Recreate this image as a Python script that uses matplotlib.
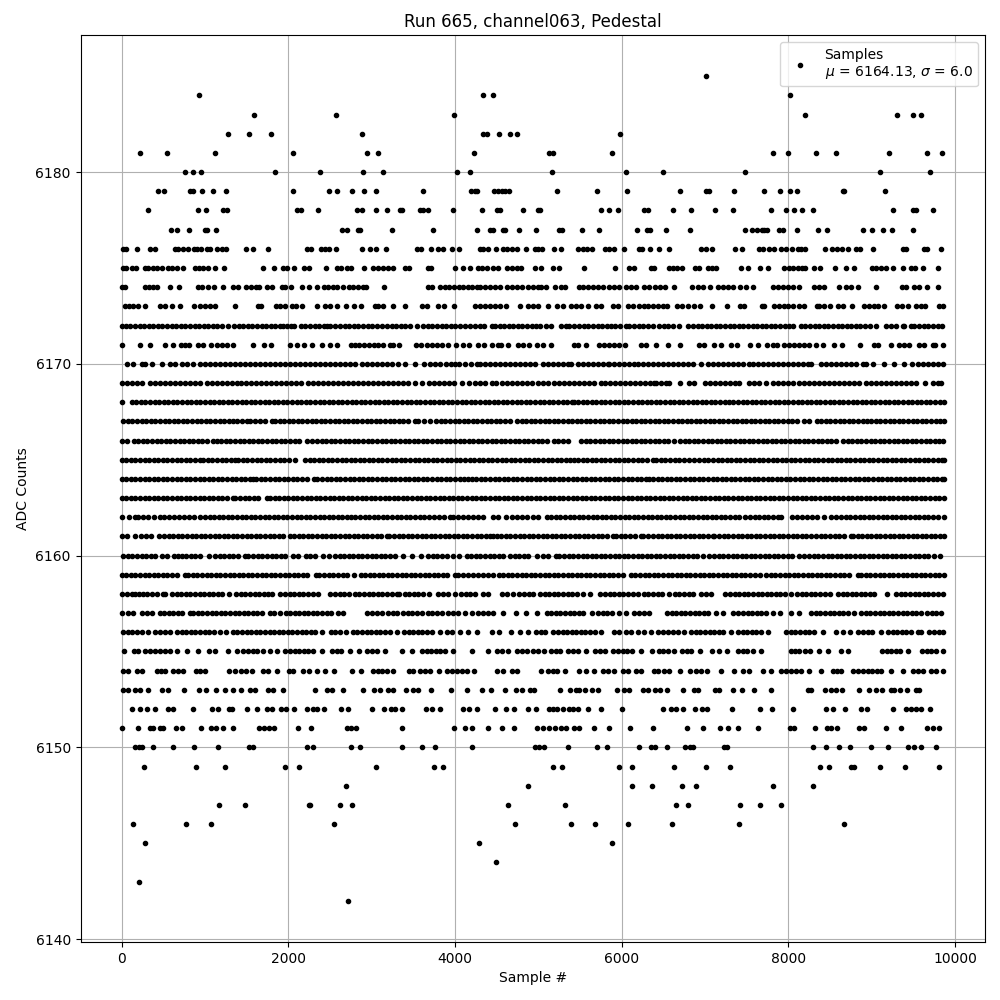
import numpy as np
import matplotlib
matplotlib.use("Agg")
import matplotlib.pyplot as plt

L = {}
L[6185] = [7008]
L[6184] = [932, 4340, 4460, 8016]
L[6183] = [1592, 2576, 3992, 8196, 9300, 9492, 9588]
L[6182] = [1280, 1532, 1796, 2888, 4340, 4380, 4532, 4664, 4748, 5976]
L[6181] = [224, 548, 1124, 2060, 2948, 3080, 4232, 5132, 5172, 5880, 7812, 7992, 8328, 8568, 9204, 9660, 9840]
L[6180] = [764, 860, 956, 1844, 2384, 2900, 3140, 4028, 4184, 5160, 6048, 6492, 7476, 9096, 9696]
L[6179] = [440, 512, 820, 852, 968, 1100, 1256, 2060, 2492, 2588, 2768, 2912, 3056, 3620, 4196, 4236, 4268, 4472, 4512, 4560, 4600, 4648, 5220, 5700, 6060, 6696, 7008, 7052, 7344, 7704, 7896, 8016, 8100, 8650, 8668, 9156]
L[6178] = [320, 920, 1016, 1220, 1268, 2108, 2148, 2360, 2828, 2888, 3056, 3188, 3340, 3364, 3584, 3620, 3680, 3980, 4328, 4500, 4540, 4820, 4992, 5024, 5748, 5844, 5952, 6264, 6312, 6612, 6828, 7116, 7332, 7788, 7968, 8064, 8160, 8292, 9252, 9492, 9532, 9732]
L[6177] = [596, 668, 812, 1000, 1028, 1136, 2648, 2700, 2840, 2860, 3248, 3740, 4268, 4420, 4460, 4572, 4604, 4772, 4968, 5244, 5280, 5520, 5724, 6180, 6300, 6340, 6528, 6816, 7476, 7560, 7620, 7680, 7710, 7740, 7884, 7932, 8100, 8352, 8460, 8892, 9000, 9132, 9240, 9492]
L[6176] = [12, 48, 188, 340, 404, 640, 680, 732, 800, 868, 908, 948, 1020, 1060, 1148, 1200, 1256, 1492, 1572, 1760, 2220, 2276, 2392, 2440, 2488, 2576, 2888, 2980, 3052, 3176, 3540, 3592, 3716, 3796, 3852, 3968, 4048, 4300, 4340, 4396, 4488, 4580, 4620, 4680, 4740, 4856, 4960, 5000, 5040, 5184, 5268, 5472, 5532, 5580, 5640, 5796, 5844, 5904, 6024, 6204, 6240, 6336, 6452, 6564, 6948, 7008, 7080, 7356, 7440, 7644, 7692, 7772, 7832, 7908, 7976, 8044, 8112, 8152, 8196, 8436, 8520, 8580, 8640, 8712, 8808, 8860, 9012, 9380, 9416, 9624, 9660, 9828]
L[6175] = [12, 52, 120, 168, 280, 320, 380, 428, 480, 560, 608, 660, 740, 880, 932, 980, 1040, 1124, 1232, 1700, 1832, 1940, 1980, 2072, 2192, 2252, 2456, 2588, 2628, 2708, 2748, 2912, 3020, 3072, 3132, 3200, 3260, 3400, 3452, 3680, 3708, 4004, 4100, 4180, 4272, 4320, 4380, 4460, 4520, 4628, 4680, 4740, 4788, 4960, 5028, 5172, 5252, 5544, 5916, 6084, 6144, 6348, 6388, 6564, 6612, 6660, 6720, 6884, 6932, 7032, 7084, 7132, 7432, 7512, 7656, 7752, 7944, 8004, 8052, 8112, 8160, 8204, 8304, 8376, 8556, 8688, 8792, 9000, 9052, 9112, 9172, 9260, 9372, 9472, 9520, 9612, 9792]
L[6174] = [0, 40, 280, 332, 380, 420, 584, 692, 920, 960, 1032, 1112, 1220, 1340, 1400, 1492, 1548, 1608, 1652, 1740, 1800, 1920, 1960, 2036, 2160, 2252, 2348, 2432, 2480, 2532, 2580, 2660, 2728, 2780, 2840, 2892, 2932, 3152, 3672, 3720, 3820, 3880, 3932, 3988, 4048, 4100, 4160, 4208, 4260, 4300, 4360, 4420, 4480, 4540, 4620, 4680, 4748, 4800, 4880, 4940, 5000, 5032, 5092, 5196, 5272, 5324, 5484, 5532, 5592, 5652, 5720, 5780, 5844, 5904, 5972, 6052, 6112, 6168, 6272, 6332, 6404, 6460, 6516, 6624, 6840, 6912, 6972, 7056, 7152, 7212, 7280, 7340, 7416, 7488, 7572, 7812, 7872, 7932, 7992, 8052, 8124, 8312, 8372, 8432, 8604, 8692, 8752, 8832, 9048, 9360, 9412, 9512, 9572, 9660, 9792]
L[6173] = [40, 88, 140, 200, 284, 460, 520, 600, 704, 872, 940, 1000, 1060, 1120, 1364, 1640, 1668, 1848, 1900, 1960, 2040, 2092, 2160, 2348, 2440, 2500, 2580, 2696, 2792, 2872, 3040, 3080, 3140, 3256, 3396, 3608, 3660, 3800, 3872, 3992, 4240, 4300, 4360, 4420, 4480, 4540, 4612, 4784, 4880, 4932, 5000, 5112, 5220, 5292, 5392, 5452, 5512, 5592, 5692, 5752, 5892, 5952, 6072, 6132, 6204, 6264, 6312, 6372, 6432, 6492, 6540, 6664, 6724, 6792, 6872, 6940, 7080, 7260, 7420, 7472, 7684, 7712, 7824, 7884, 7944, 7992, 8052, 8132, 8192, 8340, 8372, 8424, 8496, 8592, 8652, 8764, 8904, 8972, 9032, 9072, 9152, 9304, 9360, 9432, 9532, 9592, 9640, 9812, 9860]
L[6172] = [0, 50, 105, 160, 215, 270, 325, 380, 435, 490, 545, 600, 655, 710, 765, 820, 875, 930, 985, 1040, 1095, 1150, 1205, 1280, 1350, 1405, 1460, 1515, 1570, 1625, 1680, 1735, 1790, 1845, 1900, 1940, 1980, 2030, 2070, 2150, 2205, 2260, 2315, 2370, 2425, 2460, 2500, 2560, 2620, 2675, 2730, 2785, 2840, 2895, 2960, 3000, 3060, 3120, 3180, 3240, 3295, 3350, 3405, 3460, 3540, 3620, 3675, 3730, 3785, 3840, 3895, 3950, 4005, 4060, 4115, 4180, 4240, 4295, 4350, 4440, 4480, 4535, 4590, 4645, 4700, 4755, 4810, 4865, 4920, 4975, 5020, 5090, 5152, 5272, 5330, 5372, 5432, 5490, 5545, 5600, 5655, 5710, 5765, 5820, 5872, 5924, 5985, 6052, 6092, 6150, 6205, 6260, 6315, 6370, 6452, 6504, 6560, 6620, 6692, 6792, 6850, 6912, 6964, 7020, 7075, 7130, 7185, 7240, 7295, 7350, 7405, 7460, 7515, 7570, 7625, 7680, 7735, 7790, 7845, 7900, 7955, 8010, 8052, 8152, 8205, 8260, 8315, 8370, 8425, 8480, 8535, 8590, 8645, 8700, 8755, 8810, 8865, 8920, 8975, 9052, 9172, 9230, 9290, 9372, 9392, 9472, 9512, 9570, 9625, 9680, 9735, 9792, 9840]
L[6171] = [0, 224, 344, 524, 620, 708, 760, 812, 920, 972, 1076, 1140, 1200, 1260, 1340, 1580, 1712, 1796, 2024, 2100, 2188, 2284, 2408, 2500, 2588, 2748, 2800, 2852, 2908, 2972, 3032, 3080, 3132, 3220, 3260, 3324, 3532, 3588, 3660, 3720, 3780, 3840, 3920, 4016, 4100, 4172, 4280, 4348, 4440, 4520, 4548, 4640, 4760, 4820, 4892, 4980, 5052, 5152, 5432, 5472, 5572, 5732, 5792, 5852, 5912, 5972, 6036, 6232, 6292, 6412, 6556, 6696, 6924, 6984, 7104, 7192, 7308, 7380, 7536, 7636, 7740, 7812, 7860, 7944, 8012, 8072, 8132, 8192, 8252, 8332, 8412, 8544, 8640, 8856, 9032, 9072, 9236, 9324, 9392, 9444, 9572, 9632, 9732, 9764, 9856]
L[6170] = [60, 140, 240, 280, 360, 480, 580, 640, 720, 780, 860, 940, 1000, 1060, 1120, 1180, 1240, 1300, 1360, 1420, 1480, 1540, 1600, 1660, 1720, 1780, 1840, 1900, 1960, 2020, 2080, 2140, 2200, 2260, 2320, 2380, 2440, 2500, 2560, 2620, 2680, 2740, 2800, 2880, 2940, 3000, 3060, 3120, 3180, 3240, 3320, 3400, 3520, 3628, 3700, 3760, 3820, 3892, 3950, 4000, 4052, 4120, 4190, 4260, 4300, 4360, 4420, 4480, 4540, 4600, 4660, 4720, 4780, 4840, 4900, 4960, 5052, 5110, 5170, 5230, 5290, 5350, 5392, 5472, 5530, 5590, 5650, 5710, 5770, 5832, 5852, 5910, 5970, 6030, 6090, 6152, 6192, 6250, 6310, 6370, 6430, 6490, 6550, 6610, 6670, 6730, 6790, 6852, 6952, 7032, 7090, 7150, 7210, 7270, 7330, 7390, 7450, 7532, 7572, 7630, 7690, 7750, 7810, 7870, 7930, 7990, 8050, 8110, 8170, 8230, 8272, 8392, 8450, 8510, 8570, 8630, 8690, 8750, 8810, 8892, 8932, 9012, 9152, 9272, 9384, 9484, 9552, 9610, 9670, 9730, 9790, 9860]
L[6169] = [0, 60, 120, 180, 240, 340, 400, 460, 520, 580, 640, 700, 760, 820, 880, 940, 1020, 1080, 1140, 1200, 1260, 1320, 1380, 1432, 1490, 1550, 1610, 1670, 1730, 1790, 1850, 1910, 1970, 2030, 2090, 2150, 2240, 2300, 2360, 2420, 2480, 2540, 2600, 2660, 2720, 2780, 2840, 2900, 2960, 3020, 3080, 3140, 3200, 3260, 3320, 3380, 3440, 3520, 3600, 3692, 3750, 3810, 3870, 3930, 3990, 4080, 4172, 4240, 4300, 4360, 4440, 4492, 4560, 4620, 4680, 4740, 4800, 4860, 4920, 5000, 5060, 5120, 5192, 5252, 5310, 5370, 5430, 5490, 5550, 5610, 5670, 5752, 5804, 5860, 5920, 5980, 6040, 6100, 6160, 6220, 6280, 6340, 6392, 6412, 6470, 6530, 6572, 6700, 6804, 6872, 7000, 7060, 7120, 7180, 7240, 7300, 7360, 7412, 7532, 7590, 7652, 7732, 7812, 7870, 7930, 7990, 8052, 8132, 8190, 8250, 8310, 8370, 8430, 8490, 8550, 8610, 8670, 8730, 8790, 8850, 8932, 8992, 9052, 9110, 9170, 9230, 9290, 9350, 9410, 9470, 9532, 9644, 9732, 9790, 9832]
L[6168] = [8, 120, 175, 230, 285, 340, 395, 450, 505, 560, 615, 670, 725, 780, 835, 890, 945, 1000, 1055, 1110, 1165, 1220, 1275, 1330, 1385, 1440, 1495, 1550, 1605, 1660, 1715, 1770, 1825, 1880, 1935, 1990, 2045, 2100, 2155, 2210, 2265, 2320, 2375, 2430, 2485, 2540, 2595, 2650, 2705, 2760, 2815, 2870, 2925, 2980, 3035, 3090, 3145, 3200, 3255, 3310, 3365, 3420, 3475, 3530, 3585, 3640, 3695, 3750, 3805, 3860, 3915, 3970, 4025, 4080, 4135, 4190, 4245, 4300, 4355, 4410, 4465, 4520, 4575, 4630, 4685, 4740, 4795, 4850, 4905, 4960, 5015, 5070, 5125, 5180, 5235, 5290, 5345, 5400, 5432, 5472, 5530, 5585, 5640, 5695, 5750, 5805, 5860, 5915, 5970, 6025, 6080, 6135, 6190, 6245, 6300, 6355, 6410, 6465, 6520, 6575, 6630, 6685, 6740, 6795, 6850, 6905, 6960, 7015, 7070, 7125, 7180, 7235, 7290, 7332, 7392, 7450, 7505, 7560, 7615, 7670, 7725, 7780, 7835, 7890, 7945, 8000, 8055, 8110, 8165, 8220, 8275, 8330, 8385, 8440, 8495, 8550, 8605, 8660, 8715, 8770, 8825, 8880, 8935, 8990, 9045, 9100, 9155, 9210, 9265, 9320, 9375, 9430, 9485, 9540, 9595, 9650, 9705, 9760, 9815, 9866]
L[6167] = [20, 75, 130, 185, 240, 295, 350, 405, 460, 515, 570, 625, 680, 735, 790, 845, 900, 955, 1010, 1065, 1120, 1175, 1230, 1285, 1340, 1380, 1440, 1500, 1540, 1600, 1660, 1720, 1800, 1840, 1895, 1950, 2005, 2060, 2115, 2170, 2225, 2280, 2335, 2390, 2445, 2500, 2555, 2610, 2665, 2720, 2775, 2830, 2885, 2940, 2995, 3050, 3105, 3160, 3215, 3270, 3325, 3380, 3435, 3520, 3560, 3630, 3700, 3772, 3830, 3885, 3940, 3995, 4050, 4105, 4160, 4215, 4270, 4325, 4380, 4435, 4490, 4545, 4600, 4655, 4740, 4800, 4855, 4912, 4965, 5020, 5075, 5130, 5185, 5240, 5295, 5350, 5405, 5460, 5515, 5570, 5625, 5680, 5735, 5790, 5845, 5900, 5955, 6010, 6065, 6120, 6175, 6230, 6285, 6340, 6395, 6450, 6505, 6560, 6615, 6670, 6725, 6780, 6835, 6890, 6945, 7000, 7055, 7110, 7165, 7220, 7275, 7330, 7385, 7440, 7495, 7550, 7605, 7660, 7715, 7770, 7825, 7880, 7935, 7990, 8045, 8100, 8192, 8252, 8340, 8395, 8450, 8505, 8560, 8615, 8670, 8725, 8780, 8835, 8892, 8940, 8995, 9050, 9105, 9160, 9215, 9270, 9325, 9380, 9435, 9490, 9545, 9600, 9655, 9712, 9772, 9825, 9866]
L[6166] = [0, 60, 148, 200, 255, 310, 365, 420, 475, 530, 585, 640, 695, 750, 805, 860, 915, 970, 1025, 1100, 1140, 1195, 1250, 1305, 1360, 1415, 1470, 1525, 1580, 1635, 1690, 1745, 1800, 1855, 1910, 1965, 2020, 2075, 2130, 2220, 2280, 2348, 2400, 2455, 2510, 2565, 2620, 2675, 2730, 2785, 2840, 2895, 2960, 3000, 3060, 3120, 3172, 3230, 3285, 3340, 3395, 3450, 3505, 3560, 3615, 3670, 3725, 3780, 3835, 3890, 3945, 4000, 4055, 4110, 4165, 4220, 4275, 4330, 4385, 4440, 4495, 4550, 4605, 4660, 4715, 4770, 4825, 4880, 4935, 4990, 5045, 5100, 5192, 5232, 5290, 5352, 5512, 5570, 5625, 5680, 5735, 5790, 5845, 5900, 5955, 6010, 6065, 6120, 6175, 6230, 6285, 6340, 6395, 6450, 6505, 6560, 6632, 6700, 6755, 6810, 6865, 6920, 6975, 7030, 7085, 7140, 7195, 7250, 7305, 7360, 7415, 7470, 7525, 7580, 7635, 7690, 7745, 7800, 7855, 7910, 7965, 8020, 8075, 8130, 8185, 8240, 8295, 8350, 8405, 8460, 8515, 8570, 8652, 8712, 8767, 8822, 8877, 8932, 8987, 9042, 9097, 9152, 9207, 9262, 9317, 9372, 9427, 9482, 9537, 9592, 9647, 9702, 9757, 9812, 9852]
L[6165] = [0, 55, 110, 165, 220, 275, 330, 385, 440, 495, 550, 605, 660, 715, 770, 825, 880, 940, 980, 1035, 1090, 1145, 1200, 1255, 1310, 1360, 1400, 1455, 1510, 1565, 1620, 1675, 1730, 1785, 1840, 1895, 1950, 2005, 2080, 2200, 2255, 2310, 2365, 2420, 2475, 2530, 2585, 2640, 2695, 2750, 2805, 2860, 2908, 2965, 3020, 3075, 3130, 3185, 3240, 3295, 3350, 3405, 3460, 3515, 3570, 3625, 3680, 3735, 3790, 3845, 3900, 3955, 4010, 4065, 4120, 4175, 4230, 4285, 4340, 4395, 4450, 4505, 4560, 4615, 4670, 4725, 4780, 4835, 4890, 4945, 5000, 5055, 5110, 5165, 5220, 5275, 5330, 5385, 5432, 5472, 5530, 5585, 5640, 5695, 5750, 5805, 5860, 5915, 5970, 6025, 6080, 6135, 6190, 6245, 6300, 6372, 6412, 6470, 6525, 6580, 6635, 6690, 6745, 6812, 6872, 6930, 6985, 7040, 7095, 7150, 7205, 7260, 7315, 7370, 7425, 7480, 7535, 7590, 7645, 7700, 7755, 7810, 7865, 7920, 7975, 8030, 8085, 8140, 8195, 8250, 8305, 8360, 8415, 8470, 8525, 8580, 8635, 8690, 8745, 8800, 8855, 8910, 8965, 9020, 9075, 9130, 9185, 9240, 9295, 9350, 9405, 9460, 9515, 9570, 9625, 9680, 9735, 9790, 9845, 9866]
L[6164] = [0, 55, 110, 165, 220, 275, 330, 385, 440, 495, 550, 605, 660, 715, 770, 825, 880, 935, 990, 1045, 1100, 1155, 1210, 1265, 1320, 1375, 1430, 1485, 1540, 1580, 1612, 1670, 1725, 1780, 1835, 1890, 1945, 2000, 2055, 2110, 2165, 2220, 2308, 2348, 2405, 2460, 2515, 2570, 2625, 2680, 2735, 2790, 2845, 2900, 2955, 3010, 3065, 3120, 3175, 3230, 3285, 3340, 3395, 3450, 3505, 3560, 3615, 3670, 3725, 3780, 3835, 3890, 3945, 4000, 4055, 4110, 4160, 4200, 4255, 4310, 4365, 4420, 4475, 4530, 4585, 4640, 4695, 4750, 4805, 4860, 4915, 4970, 5025, 5080, 5135, 5190, 5245, 5300, 5355, 5410, 5465, 5520, 5575, 5630, 5685, 5740, 5795, 5850, 5905, 5960, 6015, 6070, 6125, 6180, 6235, 6290, 6332, 6372, 6430, 6485, 6540, 6595, 6650, 6705, 6760, 6815, 6870, 6925, 6980, 7035, 7090, 7145, 7200, 7255, 7310, 7365, 7420, 7475, 7530, 7585, 7640, 7695, 7750, 7805, 7860, 7915, 7970, 8025, 8080, 8135, 8190, 8245, 8300, 8355, 8410, 8465, 8520, 8575, 8630, 8685, 8740, 8795, 8850, 8905, 8960, 9015, 9070, 9125, 9180, 9235, 9290, 9345, 9400, 9455, 9510, 9565, 9620, 9675, 9730, 9785, 9840, 9866]
L[6163] = [0, 55, 110, 165, 220, 275, 330, 385, 440, 495, 550, 605, 660, 715, 770, 825, 880, 935, 990, 1045, 1100, 1155, 1210, 1265, 1332, 1360, 1420, 1475, 1530, 1585, 1640, 1740, 1780, 1835, 1890, 1945, 2000, 2055, 2110, 2165, 2220, 2275, 2330, 2385, 2440, 2495, 2550, 2605, 2660, 2715, 2770, 2825, 2880, 2935, 2990, 3045, 3100, 3155, 3210, 3265, 3320, 3375, 3430, 3485, 3540, 3595, 3650, 3705, 3760, 3815, 3870, 3925, 3980, 4035, 4090, 4145, 4200, 4255, 4310, 4365, 4420, 4475, 4530, 4585, 4640, 4695, 4750, 4805, 4860, 4915, 4970, 5025, 5080, 5135, 5190, 5245, 5300, 5355, 5410, 5465, 5520, 5575, 5630, 5685, 5740, 5795, 5850, 5905, 5960, 6015, 6070, 6125, 6180, 6235, 6290, 6345, 6400, 6455, 6510, 6565, 6620, 6675, 6730, 6785, 6840, 6895, 6950, 7005, 7060, 7115, 7170, 7225, 7280, 7335, 7390, 7445, 7500, 7555, 7610, 7665, 7720, 7775, 7830, 7885, 7940, 7995, 8050, 8105, 8160, 8215, 8270, 8325, 8380, 8435, 8490, 8545, 8600, 8655, 8710, 8765, 8820, 8875, 8930, 8985, 9040, 9095, 9150, 9205, 9260, 9315, 9370, 9425, 9480, 9535, 9590, 9645, 9700, 9755, 9810, 9866]
L[6162] = [8, 92, 160, 200, 260, 320, 390, 460, 508, 570, 630, 690, 750, 810, 870, 940, 1000, 1055, 1110, 1165, 1220, 1275, 1330, 1385, 1440, 1495, 1550, 1605, 1660, 1715, 1770, 1825, 1880, 1935, 1990, 2045, 2100, 2155, 2210, 2265, 2320, 2375, 2430, 2485, 2540, 2595, 2650, 2700, 2748, 2805, 2860, 2915, 2970, 3025, 3080, 3135, 3190, 3245, 3300, 3355, 3410, 3465, 3520, 3580, 3628, 3690, 3750, 3810, 3870, 3940, 3980, 4040, 4100, 4160, 4220, 4280, 4340, 4460, 4520, 4612, 4688, 4745, 4800, 4860, 4932, 5000, 5100, 5155, 5210, 5265, 5320, 5375, 5430, 5485, 5540, 5595, 5650, 5705, 5760, 5815, 5870, 5925, 5980, 6035, 6090, 6145, 6200, 6255, 6310, 6365, 6420, 6475, 6530, 6585, 6640, 6695, 6750, 6805, 6860, 6915, 6970, 7025, 7080, 7135, 7190, 7245, 7300, 7355, 7412, 7484, 7540, 7595, 7650, 7705, 7760, 7815, 7870, 7912, 8040, 8100, 8160, 8220, 8280, 8340, 8432, 8512, 8572, 8632, 8690, 8745, 8800, 8855, 8910, 8965, 9020, 9075, 9130, 9185, 9240, 9295, 9350, 9405, 9460, 9515, 9570, 9625, 9680, 9732, 9792, 9866]
L[6161] = [0, 60, 160, 228, 290, 350, 452, 508, 565, 620, 675, 730, 785, 840, 895, 950, 1005, 1060, 1115, 1170, 1225, 1280, 1335, 1390, 1445, 1500, 1555, 1610, 1665, 1720, 1775, 1830, 1885, 1940, 2020, 2068, 2125, 2180, 2235, 2290, 2345, 2400, 2455, 2510, 2565, 2620, 2675, 2730, 2785, 2840, 2895, 2950, 3005, 3060, 3115, 3180, 3212, 3270, 3325, 3380, 3435, 3490, 3545, 3600, 3655, 3710, 3765, 3820, 3875, 3930, 3985, 4040, 4095, 4150, 4205, 4260, 4315, 4370, 4425, 4460, 4500, 4555, 4610, 4665, 4720, 4775, 4830, 4885, 4940, 4995, 5050, 5105, 5160, 5215, 5270, 5325, 5380, 5435, 5490, 5545, 5600, 5655, 5710, 5765, 5820, 5892, 5932, 5990, 6045, 6100, 6160, 6232, 6260, 6320, 6375, 6430, 6485, 6540, 6595, 6650, 6705, 6760, 6815, 6870, 6925, 6980, 7035, 7092, 7112, 7170, 7225, 7280, 7335, 7390, 7445, 7500, 7555, 7610, 7665, 7720, 7775, 7830, 7885, 7940, 7995, 8050, 8105, 8160, 8215, 8272, 8332, 8390, 8445, 8500, 8555, 8610, 8665, 8752, 8772, 8830, 8885, 8940, 8995, 9050, 9105, 9160, 9215, 9270, 9325, 9380, 9435, 9490, 9545, 9600, 9655, 9710, 9765, 9820, 9866]
L[6160] = [20, 75, 130, 185, 240, 295, 350, 405, 480, 548, 628, 680, 720, 772, 830, 885, 940, 1052, 1120, 1175, 1230, 1285, 1340, 1395, 1480, 1520, 1580, 1635, 1690, 1745, 1800, 1855, 1910, 1965, 2060, 2120, 2208, 2265, 2320, 2420, 2492, 2560, 2615, 2670, 2725, 2780, 2835, 2890, 2945, 3000, 3055, 3110, 3165, 3220, 3275, 3372, 3480, 3588, 3680, 3735, 3790, 3845, 3900, 3980, 4052, 4140, 4195, 4250, 4305, 4360, 4415, 4470, 4525, 4580, 4660, 4715, 4770, 4825, 4880, 4980, 5060, 5115, 5212, 5252, 5310, 5365, 5420, 5475, 5530, 5585, 5640, 5695, 5750, 5805, 5860, 5915, 5970, 6025, 6080, 6135, 6190, 6245, 6300, 6355, 6410, 6465, 6520, 6575, 6630, 6685, 6740, 6795, 6850, 6905, 6972, 7052, 7110, 7165, 7220, 7275, 7330, 7385, 7440, 7495, 7550, 7605, 7660, 7715, 7770, 7825, 7880, 7935, 7990, 8045, 8132, 8192, 8250, 8305, 8360, 8415, 8470, 8525, 8580, 8635, 8690, 8745, 8800, 8855, 8910, 8965, 9020, 9075, 9130, 9185, 9240, 9295, 9350, 9405, 9460, 9515, 9570, 9625, 9680, 9752, 9820]
L[6159] = [0, 55, 110, 165, 220, 275, 330, 385, 440, 495, 550, 605, 660, 760, 800, 855, 910, 965, 1020, 1075, 1130, 1185, 1240, 1295, 1350, 1405, 1460, 1515, 1570, 1625, 1680, 1735, 1790, 1845, 1900, 1955, 2010, 2065, 2120, 2175, 2230, 2332, 2372, 2430, 2485, 2540, 2595, 2660, 2708, 2790, 2868, 2920, 2975, 3030, 3085, 3140, 3195, 3250, 3305, 3360, 3415, 3470, 3525, 3580, 3635, 3690, 3745, 3800, 3855, 3910, 4000, 4040, 4100, 4160, 4220, 4280, 4332, 4400, 4460, 4532, 4580, 4635, 4690, 4745, 4800, 4855, 4910, 4965, 5020, 5075, 5130, 5185, 5240, 5295, 5350, 5405, 5460, 5515, 5570, 5625, 5680, 5735, 5790, 5845, 5900, 5955, 6010, 6112, 6164, 6220, 6275, 6330, 6385, 6440, 6495, 6550, 6605, 6660, 6715, 6770, 6825, 6880, 6935, 6990, 7045, 7100, 7155, 7210, 7265, 7320, 7375, 7430, 7485, 7540, 7595, 7660, 7732, 7790, 7845, 7900, 7955, 8010, 8065, 8120, 8175, 8230, 8285, 8340, 8395, 8450, 8505, 8560, 8615, 8670, 8725, 8832, 8872, 8930, 8985, 9040, 9095, 9150, 9205, 9260, 9315, 9370, 9425, 9480, 9535, 9590, 9645, 9700, 9755, 9810, 9866]
L[6158] = [0, 60, 120, 160, 210, 260, 300, 360, 420, 500, 520, 600, 660, 715, 770, 825, 880, 935, 990, 1045, 1100, 1155, 1210, 1292, 1372, 1430, 1485, 1540, 1595, 1650, 1705, 1760, 1800, 1900, 1960, 2015, 2070, 2125, 2180, 2240, 2292, 2360, 2500, 2560, 2615, 2670, 2725, 2800, 2852, 2910, 2965, 3020, 3075, 3130, 3185, 3240, 3300, 3332, 3400, 3448, 3505, 3560, 3615, 3692, 3800, 3860, 3920, 4000, 4072, 4130, 4185, 4240, 4332, 4400, 4560, 4630, 4700, 4772, 4830, 4885, 4940, 5020, 5075, 5130, 5185, 5240, 5295, 5350, 5405, 5460, 5532, 5616, 5744, 5800, 5855, 5910, 5965, 6020, 6080, 6140, 6200, 6272, 6320, 6375, 6432, 6480, 6564, 6640, 6692, 6750, 6805, 6860, 6952, 7012, 7072, 7244, 7300, 7355, 7410, 7465, 7520, 7575, 7630, 7685, 7740, 7795, 7850, 7905, 7960, 8032, 8104, 8160, 8215, 8270, 8325, 8380, 8435, 8504, 8592, 8650, 8705, 8760, 8815, 8870, 8925, 8980, 9032, 9180, 9292, 9350, 9405, 9460, 9515, 9570, 9625, 9680, 9735, 9790, 9852]
L[6157] = [0, 80, 140, 240, 300, 360, 460, 508, 565, 620, 675, 730, 820, 860, 915, 970, 1025, 1080, 1135, 1190, 1245, 1300, 1355, 1410, 1465, 1520, 1575, 1630, 1685, 1780, 1828, 1900, 1972, 2020, 2075, 2130, 2185, 2240, 2295, 2350, 2405, 2460, 2515, 2592, 2660, 2940, 3000, 3060, 3128, 3200, 3260, 3300, 3380, 3435, 3490, 3545, 3600, 3680, 3728, 3785, 3840, 3920, 3980, 4040, 4120, 4200, 4280, 4340, 4400, 4460, 4572, 4728, 4848, 4980, 5100, 5155, 5210, 5265, 5320, 5375, 5430, 5485, 5540, 5644, 5712, 5770, 5825, 5880, 5972, 6052, 6152, 6210, 6265, 6332, 6540, 6600, 6655, 6710, 6765, 6820, 6875, 6930, 6985, 7040, 7132, 7212, 7340, 7400, 7455, 7510, 7565, 7620, 7675, 7730, 7812, 7900, 8032, 8132, 8272, 8330, 8385, 8440, 8495, 8550, 8605, 8660, 8715, 8792, 8872, 8930, 8985, 9040, 9095, 9150, 9205, 9260, 9315, 9370, 9425, 9480, 9535, 9592, 9660, 9720, 9775, 9832]
L[6156] = [20, 75, 130, 185, 240, 320, 400, 460, 520, 580, 660, 720, 775, 830, 885, 940, 995, 1050, 1105, 1180, 1248, 1332, 1390, 1445, 1500, 1555, 1610, 1665, 1720, 1775, 1830, 1885, 1940, 1995, 2050, 2105, 2160, 2215, 2270, 2325, 2400, 2508, 2565, 2620, 2692, 2772, 2830, 2885, 2940, 2995, 3050, 3105, 3160, 3215, 3300, 3388, 3445, 3500, 3555, 3610, 3665, 3720, 3820, 3900, 3960, 4060, 4160, 4260, 4448, 4532, 4668, 4780, 4880, 4972, 5030, 5085, 5172, 5232, 5290, 5345, 5400, 5455, 5510, 5565, 5620, 5675, 5752, 5912, 5970, 6052, 6112, 6192, 6272, 6352, 6440, 6500, 6555, 6610, 6672, 6744, 6832, 6890, 6945, 7000, 7055, 7110, 7165, 7220, 7312, 7392, 7450, 7505, 7560, 7615, 7670, 7752, 7972, 8030, 8085, 8140, 8195, 8250, 8305, 8412, 8572, 8652, 8740, 8832, 8892, 8950, 9005, 9112, 9192, 9250, 9305, 9360, 9415, 9470, 9552, 9592, 9692, 9752, 9810, 9852]
L[6155] = [32, 148, 200, 280, 340, 400, 460, 520, 580, 660, 780, 920, 1052, 1120, 1280, 1380, 1460, 1520, 1575, 1630, 1700, 1780, 1860, 1960, 2020, 2075, 2130, 2185, 2240, 2295, 2400, 2520, 2580, 2635, 2740, 2852, 2948, 3005, 3060, 3160, 3360, 3488, 3600, 3660, 3715, 3770, 3825, 3880, 3980, 4208, 4400, 4500, 4560, 4640, 4748, 4810, 4865, 4932, 5000, 5072, 5152, 5210, 5265, 5352, 5412, 5470, 5572, 5680, 5740, 5795, 5892, 5952, 6010, 6065, 6120, 6232, 6360, 6444, 6500, 6555, 6632, 6720, 6780, 6835, 6940, 7080, 7172, 7260, 7392, 7450, 7505, 7572, 7672, 8032, 8080, 8132, 8204, 8260, 8364, 8472, 8628, 8712, 9124, 9180, 9235, 9290, 9345, 9432, 9604, 9660, 9715, 9770, 9852]
L[6154] = [20, 80, 180, 240, 420, 470, 520, 620, 680, 740, 888, 945, 1000, 1292, 1364, 1432, 1490, 1560, 1700, 1760, 1860, 2008, 2060, 2172, 2252, 2344, 2444, 2552, 2760, 2876, 3020, 3075, 3120, 3180, 3260, 3452, 3500, 3584, 3640, 3700, 3812, 3900, 3960, 4020, 4085, 4148, 4232, 4500, 4572, 4680, 4748, 5028, 5112, 5170, 5225, 5324, 5484, 5572, 5664, 5780, 5840, 5912, 6020, 6080, 6172, 6228, 6384, 6432, 6504, 6572, 6696, 6816, 6892, 6952, 7020, 7192, 7352, 7452, 7532, 7692, 7788, 7912, 7970, 8030, 8090, 8152, 8244, 8388, 8532, 8580, 8632, 8772, 8830, 8890, 8950, 9005, 9060, 9115, 9232, 9380, 9492, 9550, 9612, 9712, 9770, 9852]
L[6153] = [20, 80, 160, 224, 320, 480, 560, 748, 932, 1012, 1136, 1240, 1340, 1436, 1540, 1600, 1760, 1820, 1940, 2324, 2460, 2520, 2660, 2900, 3032, 3100, 3200, 3260, 3412, 3500, 3560, 3708, 3956, 4140, 4328, 4436, 4604, 4736, 4808, 4900, 4952, 5264, 5376, 5452, 5492, 5556, 5640, 5712, 5940, 6024, 6084, 6252, 6312, 6404, 6464, 6540, 6732, 6872, 6912, 7124, 7172, 7332, 7440, 7584, 7788, 8232, 8272, 8436, 8512, 8572, 8644, 8844, 8972, 9052, 9120, 9232, 9272, 9340, 9420, 9532, 9572]
L[6152] = [120, 224, 308, 404, 560, 620, 860, 1088, 1160, 1292, 1320, 1508, 1628, 1748, 1800, 1916, 1976, 2072, 2228, 2300, 2348, 2432, 2632, 2720, 3008, 3152, 3232, 3280, 3364, 3656, 3728, 3824, 4100, 4172, 4260, 4484, 4616, 4712, 4880, 4968, 5124, 5172, 5220, 5292, 5364, 5420, 5472, 5592, 5756, 6000, 6492, 6592, 6652, 6732, 6876, 6960, 7020, 7320, 7656, 7800, 8052, 8448, 8532, 8676, 8868, 8940, 9260, 9412, 9470, 9530, 9592, 9696]
L[6151] = [8, 200, 340, 380, 460, 500, 656, 728, 956, 1072, 1132, 1220, 1340, 1652, 1712, 1772, 1832, 2120, 2276, 2708, 2748, 2816, 3364, 3992, 4120, 4200, 4400, 4568, 4712, 4988, 5052, 5124, 5196, 5268, 5328, 5432, 5492, 5664, 5844, 6096, 6372, 6780, 6980, 7180, 7272, 7392, 7632, 8016, 8064, 8316, 8460, 8512, 8580, 8844, 8912, 9168, 9348, 9660, 9732, 9804]
L[6150] = [160, 212, 240, 380, 620, 872, 1160, 1532, 1580, 2228, 2300, 2756, 2864, 3368, 3608, 3760, 4208, 4960, 5012, 5064, 5352, 5708, 5820, 6204, 6348, 6396, 6540, 6756, 6816, 6852, 7224, 7260, 8292, 8448, 8604, 8736, 8988, 9192, 9440, 9504, 9588, 9768]
L[6149] = [272, 896, 1244, 1964, 2132, 3056, 3752, 3860, 5172, 5280, 5964, 6120, 6624, 7008, 7296, 8376, 8484, 8748, 8792, 9096, 9400, 9804]
L[6148] = [2696, 4880, 6120, 6360, 6720, 6888, 7812, 8292]
L[6147] = [1172, 1484, 2244, 2256, 2624, 2768, 4640, 5316, 6648, 6792, 7416, 7656, 7908]
L[6146] = [140, 776, 1076, 2552, 4724, 5388, 5676, 6072, 6600, 7404, 8664]
L[6145] = [284, 4292, 5880]
L[6144] = [4496]
L[6143] = [212]
L[6142] = [2720]

levels = sorted(L)
xs = np.concatenate([np.array(L[k], dtype=float) for k in levels])
ys = np.concatenate([np.full(len(L[k]), k, dtype=float) for k in levels])

fig, ax = plt.subplots(figsize=(10, 10))
ax.plot(xs, ys, 'k.', label='Samples\n$\\mu$ = 6164.13, $\\sigma$ = 6.0')
ax.set_title('Run 665, channel063, Pedestal')
ax.set_xlabel('Sample #')
ax.set_ylabel('ADC Counts')
ax.grid(True)
ax.legend(loc='upper right')
fig.subplots_adjust(left=0.0805, right=0.985, top=0.965, bottom=0.058)
fig.savefig('out.png', dpi=100)
